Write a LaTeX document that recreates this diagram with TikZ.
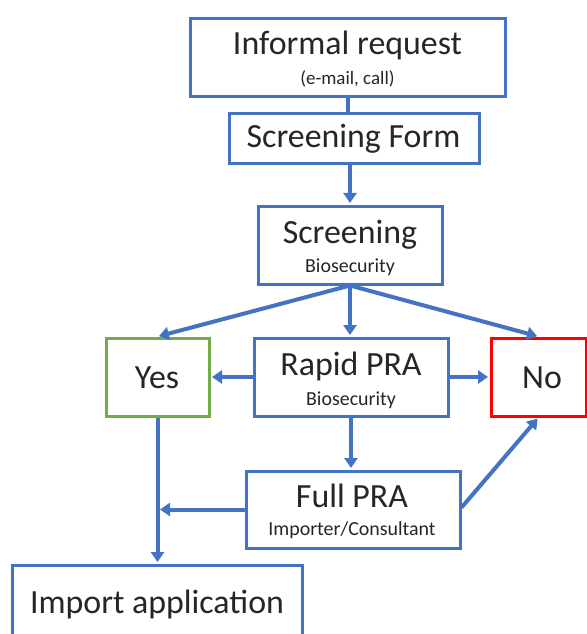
\documentclass[tikz,border=0pt]{standalone}
\usepackage{fontspec}
\setmainfont{Carlito}
\usetikzlibrary{arrows.meta,calc}
\definecolor{boxblue}{HTML}{4472C4}
\definecolor{boxgreen}{HTML}{70AD47}
\definecolor{boxred}{HTML}{FF0000}
\definecolor{txt}{HTML}{262626}
\begin{document}
\begin{tikzpicture}[x=1bp,y=-1bp,
  box/.style={draw=boxblue, line width=3bp, fill=white, inner sep=0pt},
  big/.style={text=txt, font=\fontsize{34}{40}\selectfont, inner sep=0pt, anchor=base},
  small/.style={text=txt, font=\fontsize{20}{24}\selectfont, inner sep=0pt, anchor=base},
  conn/.style={draw=boxblue, line width=4bp},
  arr/.style={conn, shorten >=1.5bp, -{Triangle[length=10bp,width=13bp]}}]
\fill[white] (0,0) rectangle (587,634);
\useasboundingbox (0,0) rectangle (587,634);
% boxes
\node[box, minimum width=315bp, minimum height=78bp] (inf) at (347.5,58) {};
\node[box, minimum width=250bp, minimum height=49bp] (sf) at (354,138.5) {};
\node[box, minimum width=184bp, minimum height=78bp] (scr) at (350,245) {};
\node[box, draw=boxgreen, minimum width=103bp, minimum height=78bp] (yes) at (157.5,377) {};
\node[box, minimum width=194bp, minimum height=78bp] (rap) at (351,377) {};
\node[box, draw=boxred, minimum width=95bp, minimum height=78bp] (no) at (538.5,377) {};
\node[box, minimum width=214bp, minimum height=77bp] (full) at (353,509.5) {};
\node[box, minimum width=289bp, minimum height=94bp] (imp) at (157.5,612) {};
% texts
\node[big] (tinf) at (347.5,55) {Informal request};
\node[small, font=\fontsize{19}{22}\selectfont] (tinf2) at (347.5,85) {(e-mail, call)};
\node[big] (tsf) at (353.5,148) {Screening Form};
\node[big] (tscr) at (350,243) {Screening};
\node[small] (tscr2) at (350,272) {Biosecurity};
\node[big] (tyes) at (157,388) {Yes};
\node[big] (trap) at (351,375) {Rapid PRA};
\node[small] (trap2) at (351,405) {Biosecurity};
\node[big] (tno) at (542,388) {No};
\node[big] (tfull) at (352,507) {Full PRA};
\node[small] (tfull2) at (352,535) {Importer/Consultant};
\node[big] (timp) at (157,613) {Import application};
% connectors
\draw[conn] (inf.south) -- (inf.south |- sf.north);
\draw[arr] (sf.south -| scr.north) -- (scr.north);
\draw[arr] (scr.south) -- (yes.north);
\draw[arr] (scr.south) -- (scr.south |- rap.north);
\draw[arr] (scr.south) -- (no.north);
\draw[arr] (rap.west) -- (yes.east);
\draw[arr] (rap.east) -- (no.west);
\draw[arr] (rap.south) -- (rap.south |- full.north);
\draw[arr] ($(full.east)+(0,-2)$) -- (no.south);
\draw[arr] (yes.south) -- (yes.south |- imp.north);
\coordinate (join) at ($(yes.south |- full.west)+(1,0)$);
\draw[arr] (full.west) -- (join);
\end{tikzpicture}
\end{document}
